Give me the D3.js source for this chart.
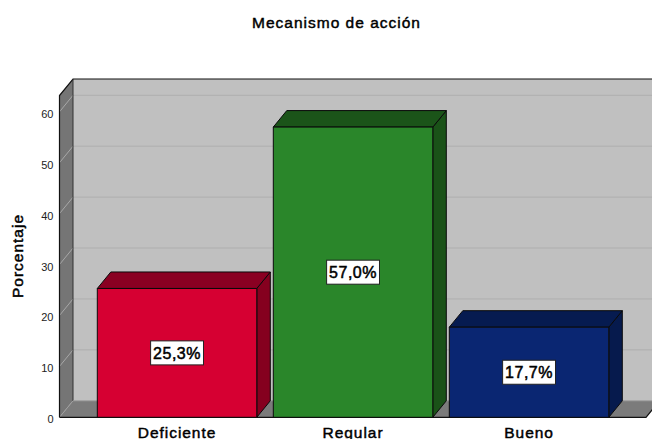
<!DOCTYPE html>
<html><head><meta charset="utf-8">
<script src="https://cdn.jsdelivr.net/npm/d3@7/dist/d3.min.js"></script>
<style>html,body{margin:0;padding:0;background:#fff;overflow:hidden}svg{display:block}text{font-family:"Liberation Sans",Arial,sans-serif}</style>
</head><body><svg id="c" width="652" height="439"></svg>
<script>
const title = "Mecanismo de acción";
const yLabel = "Porcentaje";
const categories = ["Deficiente","Regular","Bueno"];
const values = [25.3,57.0,17.7];
const valueLabels = ["25,3%","57,0%","17,7%"];
const frontColors = ["#d60032","#2a862a","#0a2672"];
const sideColors = ["#85001f","#1a5218","#061a4d"];
const topColors = ["#8a0022","#1b5419","#061b50"];
const yTicks = [0,10,20,30,40,50,60];

const svg = d3.select("#c");
const dx = 13.5, dy = -16.5;
const y = d3.scaleLinear().domain([0,63.2]).range([417.3,95.5]);
const x = d3.scaleBand().domain(categories).range([97.3,608.8]).paddingInner(0.0938).paddingOuter(0);
const left = 59.5, right = 646;
const poly = (pts,fill,stroke,sw) => svg.append("path")
  .attr("d", d3.line()(pts)+"Z").attr("fill",fill)
  .attr("stroke",stroke||"none").attr("stroke-width",sw||0).attr("stroke-linejoin","round");

poly([[left+dx,y(0)+dy],[right+dx,y(0)+dy],[right+dx,y(63.2)+dy],[left+dx,y(63.2)+dy]],"#c0c0c0");
svg.append("g").selectAll("line").data(yTicks.slice(1)).join("line")
  .attr("x1",left+dx).attr("x2",right+dx)
  .attr("y1",d=>y(d)+dy).attr("y2",d=>y(d)+dy)
  .attr("stroke","#aeaeae").attr("stroke-width",1);
poly([[left,y(0)],[right,y(0)],[right+dx,y(0)+dy],[left+dx,y(0)+dy]],"#7b7b7b");
poly([[left,y(0)],[left+dx,y(0)+dy],[left+dx,y(63.2)+dy],[left,y(63.2)]],"#757575");
svg.append("g").selectAll("line").data(yTicks.slice(1)).join("line")
  .attr("x1",left).attr("x2",left+dx)
  .attr("y1",d=>y(d)).attr("y2",d=>y(d)+dy)
  .attr("stroke","#a8a8a8").attr("stroke-width",1);
svg.append("line").attr("x1",left).attr("y1",y(0)).attr("x2",left+dx).attr("y2",y(0)+dy)
  .attr("stroke","#a0a0a0").attr("stroke-width",1);
const K = "#111";
svg.append("path").attr("fill","none").attr("stroke",K).attr("stroke-width",1.2)
  .attr("d", d3.line()([[left,y(0)],[left,y(63.2)],[left+dx,y(63.2)+dy],[right+dx,y(63.2)+dy]]));
svg.append("line").attr("x1",left+dx).attr("x2",left+dx).attr("y1",y(63.2)+dy).attr("y2",y(0)+dy)
  .attr("stroke","#333").attr("stroke-width",1);
svg.append("line").attr("x1",left+dx).attr("x2",right+dx).attr("y1",y(0)+dy).attr("y2",y(0)+dy)
  .attr("stroke","#9a9a9a").attr("stroke-width",1);
svg.append("path").attr("fill","none").attr("stroke",K).attr("stroke-width",1.2)
  .attr("d", d3.line()([[left,y(0)],[right,y(0)],[right+dx,y(0)+dy]]));

categories.forEach((c,i)=>{
  const x0=x(c), x1=x0+x.bandwidth(), yt=y(values[i]), yb=y(0);
  poly([[x1,yb],[x1+dx,yb+dy],[x1+dx,yt+dy],[x1,yt]],sideColors[i],"#0a0a0a",1);
  poly([[x0,yt],[x1,yt],[x1+dx,yt+dy],[x0+dx,yt+dy]],topColors[i],"#0a0a0a",1);
  poly([[x0,yb],[x1,yb],[x1,yt],[x0,yt]],frontColors[i],"#0a0a0a",1);
});

categories.forEach((c,i)=>{
  const cx=x(c)+x.bandwidth()/2, cy=y(values[i]/2);
  const g=svg.append("g");
  const t=g.append("text").attr("x",cx).attr("y",cy+6).attr("text-anchor","middle")
    .attr("font-size",16).attr("letter-spacing",0.5).attr("stroke","#000").attr("stroke-width",0.5).attr("fill","#000").text(valueLabels[i]);
  const w=t.node().getComputedTextLength();
  g.insert("rect","text").attr("x",cx-w/2-2.5).attr("y",cy-12).attr("width",w+5).attr("height",24)
    .attr("fill","#fff").attr("stroke","#222").attr("stroke-width",1);
});

const ya = svg.append("g").attr("transform",`translate(${left},2)`)
  .call(d3.axisLeft(y).tickValues(yTicks).tickSize(0).tickPadding(6).tickFormat(d3.format("d")));
ya.select(".domain").remove();
ya.selectAll("text").attr("font-size",11).attr("fill","#222").style("font-family",'"Liberation Sans",Arial,sans-serif');

const xa = svg.append("g").attr("transform",`translate(0,${y(0)+2})`)
  .call(d3.axisBottom(x).tickSize(0).tickPadding(8));
xa.select(".domain").remove();
xa.selectAll("text").attr("font-size",15.5).attr("letter-spacing",0.95).attr("fill","#000").attr("stroke","#000").attr("stroke-width",0.45)
  .style("font-family",'"Liberation Sans",Arial,sans-serif');

svg.append("text").attr("x",336.5).attr("y",28).attr("text-anchor","middle")
  .attr("font-size",15.5).attr("letter-spacing",1).attr("stroke","#000").attr("stroke-width",0.45).text(title);
svg.append("text").attr("transform","translate(23,256) rotate(-90)").attr("text-anchor","middle")
  .attr("font-size",15.5).attr("letter-spacing",1).attr("stroke","#000").attr("stroke-width",0.45).text(yLabel);
</script></body></html>
